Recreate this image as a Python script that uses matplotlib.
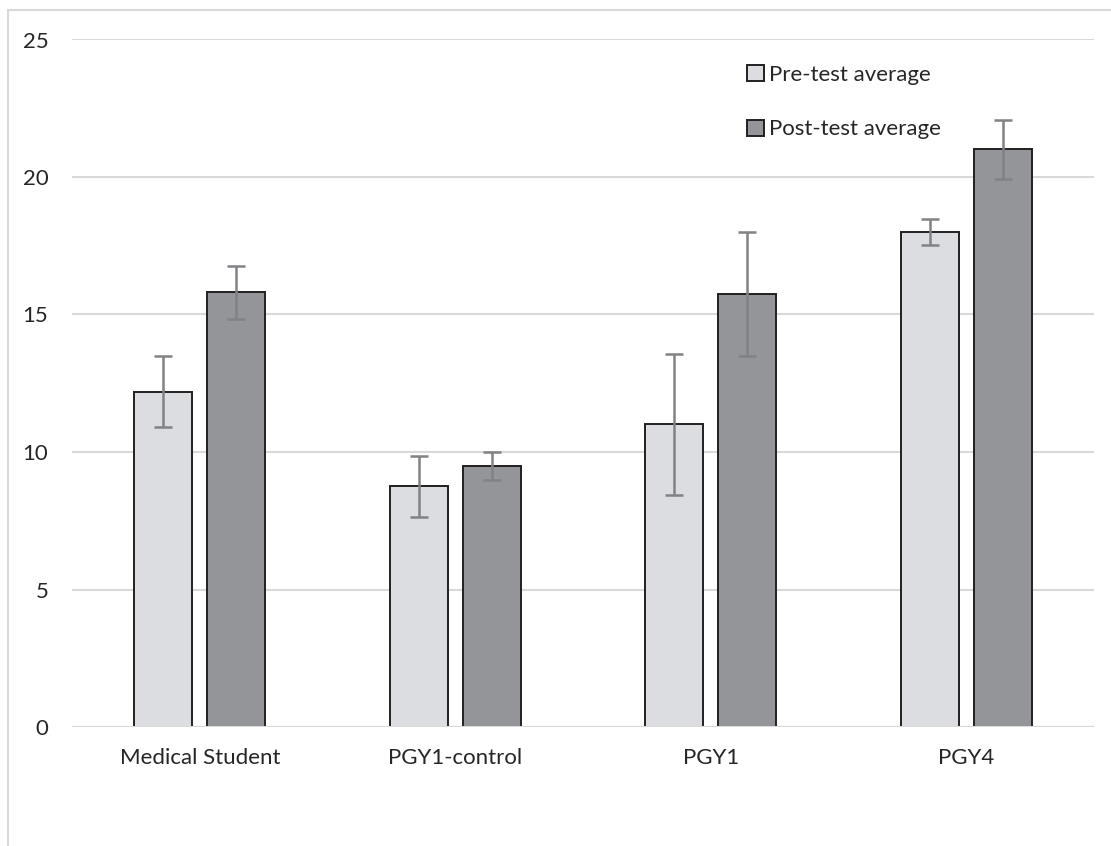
import numpy as np
import matplotlib
matplotlib.use("Agg")
import matplotlib.pyplot as plt
from matplotlib.patches import Rectangle

# ---------------------------------------------------------
# Data
# ---------------------------------------------------------
groups = ["Medical Student", "PGY1-control", "PGY1", "PGY4"]
pre_avg = [12.2, 8.75, 11.0, 18.0]
pre_err = [1.3, 1.1, 2.55, 0.47]
post_avg = [15.8, 9.5, 15.75, 21.0]
post_err = [0.97, 0.5, 2.25, 1.07]
series_labels = ["Pre-test average", "Post-test average"]
y_ticks = [0, 5, 10, 15, 20, 25]

pre_color = "#dcdde0"
post_color = "#939598"
edge_color = "#231f20"
err_color = "#808285"
grid_color = "#d9d9d9"
text_color = "#262626"

plt.rcParams["font.family"] = ["Lato", "DejaVu Sans"]

fig = plt.figure(figsize=(11.11, 8.46), dpi=100)
# light frame around the chart area (only left/top visible in the reference)
fig.patches.append(Rectangle((8 / 1111, -0.1), 1.2, 1.1 - 10 / 846,
                             transform=fig.transFigure, fill=False,
                             edgecolor="#d9d9d9", linewidth=1.5))

ax = fig.add_axes([72 / 1111, 1 - 727 / 846, (1094 - 72) / 1111, (727 - 39.5) / 846])

x = np.arange(len(groups))
width = 0.227
gap = 0.059
off = (width + gap) / 2

err_kw = dict(ecolor=err_color, elinewidth=1.8, capsize=6.5, capthick=1.8)
ax.bar(x - off, pre_avg, width, yerr=pre_err, color=pre_color,
       edgecolor=edge_color, linewidth=1.4, label=series_labels[0],
       error_kw=err_kw, zorder=2)
ax.bar(x + off, post_avg, width, yerr=post_err, color=post_color,
       edgecolor=edge_color, linewidth=1.4, label=series_labels[1],
       error_kw=err_kw, zorder=2)

ax.set_xlim(-0.5, len(groups) - 0.5)
ax.set_ylim(0, 25)
ax.set_yticks(y_ticks)
ax.set_xticks(x)
ax.set_xticklabels(groups)
ax.yaxis.grid(True, color=grid_color, linewidth=1.5, zorder=0)
ax.axhline(0, color=grid_color, linewidth=1.5, zorder=3)
ax.set_axisbelow(True)
for s in ax.spines.values():
    s.set_visible(False)
ax.tick_params(axis="both", length=0, labelsize=16, colors=text_color)
ax.tick_params(axis="y", pad=17)
ax.tick_params(axis="x", pad=15)

leg = ax.legend(loc="upper left", bbox_to_anchor=(0.65, 0.979), frameon=False,
                fontsize=16, handlelength=0.75, handleheight=0.75,
                handletextpad=0.2, labelspacing=1.55, borderpad=0)
for t in leg.get_texts():
    t.set_color(text_color)

fig.savefig("out.png", dpi=100)
